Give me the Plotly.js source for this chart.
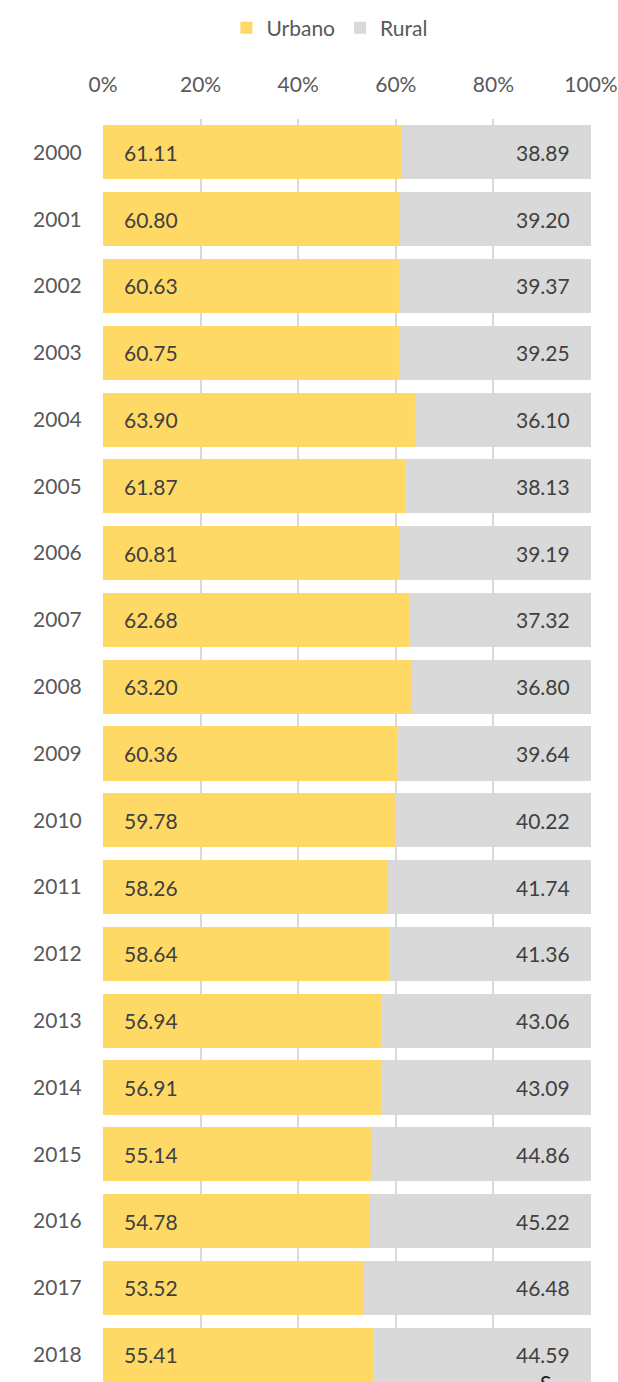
<!DOCTYPE html>
<html>
<head>
<meta charset="utf-8">
<script src="https://cdn.plot.ly/plotly-3.0.1.min.js"></script>
<style>html,body{margin:0;padding:0;background:#fff;}#chart{width:618px;height:1382px;}</style>
</head>
<body>
<div id="chart"></div>
<script>
const years = ['2000','2001','2002','2003','2004','2005','2006','2007','2008','2009','2010','2011','2012','2013','2014','2015','2016','2017','2018'];
const urbano = [61.11,60.80,60.63,60.75,63.90,61.87,60.81,62.68,63.20,60.36,59.78,58.26,58.64,56.94,56.91,55.14,54.78,53.52,55.41];
const rural = [38.89,39.20,39.37,39.25,36.10,38.13,39.19,37.32,36.80,39.64,40.22,41.74,41.36,43.06,43.09,44.86,45.22,46.48,44.59];
const xTicks = [0,20,40,60,80,100];
const xTickText = ['0%','20%','40%','60%','80%','100%'];
const seriesNames = ['Urbano','Rural'];

const FONT = 'Lato, "Open Sans", sans-serif';
const TXT = '#595959';
const LBL = '#404040';

const traces = [
  {type:'bar', orientation:'h', name:seriesNames[0], y:years, x:urbano,
   marker:{color:'#FFD966'}, hoverinfo:'none'},
  {type:'bar', orientation:'h', name:seriesNames[1], y:years, x:rural,
   marker:{color:'#D9D9D9'}, hoverinfo:'none'}
];

const annotations = [];
years.forEach((yr,i)=>{
  annotations.push({x:0, y:i, xref:'x', yref:'y', text:urbano[i].toFixed(2),
    showarrow:false, xanchor:'left', xshift:19, font:{family:FONT, size:21, color:LBL}});
  annotations.push({x:urbano[i]+rural[i], y:i, xref:'x', yref:'y', text:rural[i].toFixed(2),
    showarrow:false, xanchor:'right', xshift:-19, font:{family:FONT, size:21, color:LBL}});
});
annotations.push({x:(545-103)/488, y:0, xref:'paper', yref:'paper', text:'S', showarrow:false,
  xanchor:'center', yanchor:'top', yshift:14, font:{family:FONT, size:21, color:'#222'}});

const layout = {
  width:618, height:1382,
  margin:{l:103, r:27, t:119, b:0, pad:0},
  paper_bgcolor:'#fff', plot_bgcolor:'#fff',
  barmode:'stack', bargap:0.19,
  font:{family:FONT, size:21, color:TXT},
  showlegend:true,
  legend:{orientation:'h', x:0.465, xanchor:'center', y:0.9945, yref:'container', yanchor:'top',
    font:{family:FONT, size:21, color:TXT}, itemwidth:30, traceorder:'normal', tracegroupgap:0},
  xaxis:{side:'top', range:[0,100], tickvals:xTicks, ticktext:xTickText,
    showgrid:true, gridcolor:'#D9D9D9', gridwidth:2, zeroline:false, showline:false,
    ticks:'outside', ticklen:18, tickcolor:'rgba(0,0,0,0)', fixedrange:true,
    tickfont:{family:FONT, size:21, color:TXT}},
  yaxis:{type:'category', range:[18.41,-0.5], showgrid:false, zeroline:false, showline:false,
    ticks:'outside', ticklen:16, tickcolor:'rgba(0,0,0,0)', fixedrange:true,
    tickfont:{family:FONT, size:21, color:TXT}},
  annotations:annotations
};

Plotly.newPlot('chart', traces, layout, {displayModeBar:false, staticPlot:true});
</script>
</body>
</html>
